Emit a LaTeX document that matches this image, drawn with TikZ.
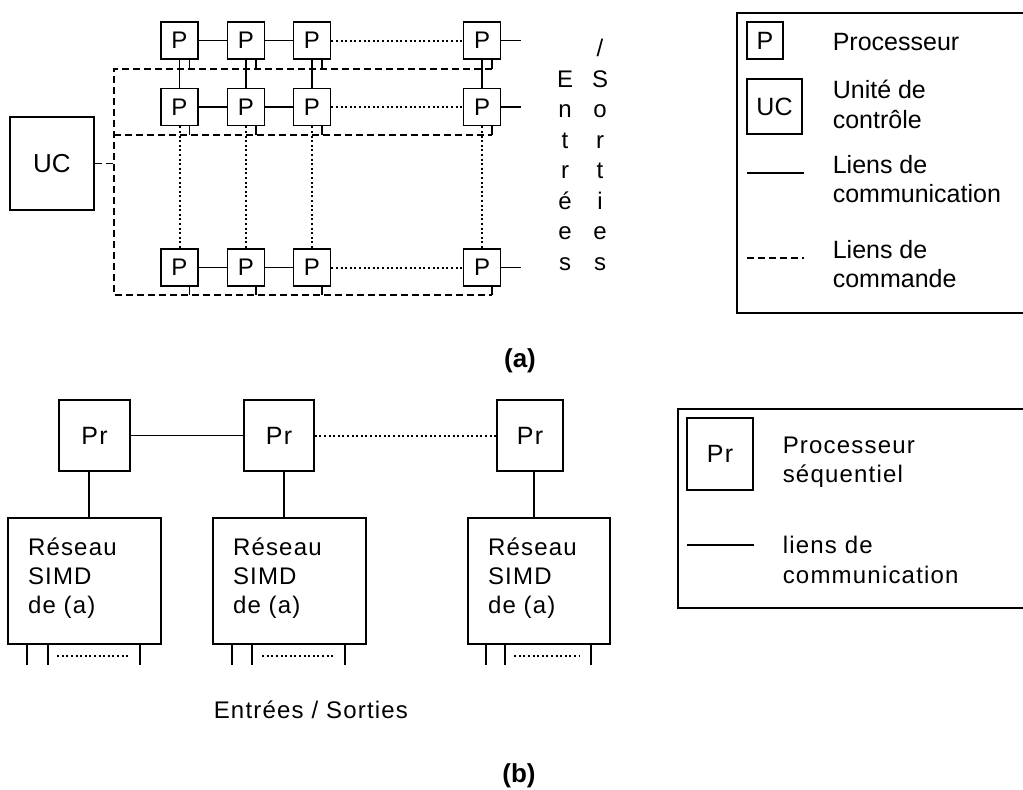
\documentclass[tikz,border=0pt]{standalone}
\usepackage{fontspec}
\setmainfont{Liberation Sans}
\newfontfamily\spfont[LetterSpace=5]{Liberation Sans}
\usetikzlibrary{calc}
\begin{document}
\begin{tikzpicture}[x=1pt,y=-1pt, line width=1.6pt,
  pbox/.style={draw, minimum width=37pt, minimum height=37pt, inner sep=0pt, font=\fontsize{24}{28}\selectfont},
  bigbox/.style={draw, inner sep=0pt},
  cmd/.style={dash pattern=on 7pt off 4pt},
  dots/.style={line width=2pt, dash pattern=on 2pt off 2.6pt},
  txt/.style={inner sep=0pt, anchor=base west, font=\fontsize{25}{29}\selectfont},
  stxt/.style={inner sep=0pt, anchor=base west, font=\spfont\fontsize{24}{29}\selectfont},
  lbl/.style={inner sep=0pt, anchor=base, font=\fontsize{26}{30}\selectfont\bfseries}
]
\useasboundingbox (0,0) rectangle (1023,790);

% ---------------- (a) ----------------
\foreach \r/\y in {1/40.5, 2/107, 3/267.5}{
  \foreach \c/\x in {1/179.5, 2/246, 3/312, 4/482}{
    \node[pbox] (p\r\c) at (\x,\y) {P};
  }
}
\node[bigbox, minimum width=84pt, minimum height=93pt, font=\fontsize{26}{30}\selectfont] (uc) at (52,163.5) {UC};

% communication links
\foreach \r in {1,2,3}{
  \draw (p\r1.east) -- (p\r2.west);
  \draw (p\r2.east) -- (p\r3.west);
  \draw[dots] (p\r3.east) -- (p\r4.west);
  \coordinate (io\r) at ([xshift=20pt]p\r4.east);
  \draw (p\r4.east) -- (io\r);
}
\foreach \c in {1,2,3,4}{
  \draw (p1\c.south) -- (p2\c.north);
  \draw[dots] (p2\c.south) -- (p3\c.north);
}

% control links
\coordinate (ctl) at (114,69);
\coordinate (ctr) at (492,69);
\coordinate (cml) at (114,135);
\coordinate (cmr) at (492,135);
\coordinate (cbl) at (114,295);
\coordinate (cbr) at (492,295);
\coordinate (cuc) at (114,163.5);
\draw[cmd] (ctr) -- (ctl) -- (cbl) -- (cbr);
\draw[cmd] (cml) -- (cmr);
\draw[cmd] (uc.east) -- (cuc);
\foreach \r/\yy in {1/69, 2/135, 3/295}{
  \foreach \c in {1,2,3,4}{
    \draw ([xshift=10pt]p\r\c.south) -- ([xshift=10pt]p\r\c.south |- 0,\yy);
  }
}

% Entrees / Sorties vertical
\foreach \l [count=\i from 0] in {E,n,t,r,é,e,s}{
  \node[inner sep=0pt, anchor=base, font=\fontsize{24}{29}\selectfont] (en\i) at (565,87+30.5*\i) {\l};
}
\foreach \l [count=\i from 0] in {/,S,o,r,t,i,e,s}{
  \node[inner sep=0pt, anchor=base, font=\fontsize{24}{29}\selectfont] (so\i) at (600,56.5+30.5*\i) {\l};
}

% legend (a)
\draw (737,13) rectangle (1040,313);
\node[bigbox, minimum width=36pt, minimum height=37pt, font=\fontsize{25}{29}\selectfont] (lp) at (765,40.5) {P};
\node[bigbox, minimum width=55pt, minimum height=55pt, font=\fontsize{25}{29}\selectfont] (luc) at (774.5,106.5) {UC};
\coordinate (lca) at (747,173);
\coordinate (lcb) at (804,173);
\draw (lca) -- (lcb);
\coordinate (lda) at (747,258);
\coordinate (ldb) at (804,258);
\draw[cmd] (lda) -- (ldb);
\node[txt] (t1) at (832,50) {Processeur};
\node[txt] (t2) at (832,98) {Unité de};
\node[txt] (t3) at (832,128) {contrôle};
\node[txt] (t4) at (832,173) {Liens de};
\node[txt] (t5) at (832,202) {communication};
\node[txt] (t6) at (832,258) {Liens de};
\node[txt] (t7) at (832,287) {commande};

\node[lbl] (la) at (520,367) {(a)};

% ---------------- (b) ----------------
\node[bigbox, minimum width=71pt, minimum height=71pt, font=\spfont\fontsize{25}{29}\selectfont] (pr1) at (94.5,435.5) {Pr};
\node[bigbox, minimum width=70pt, minimum height=71pt, font=\spfont\fontsize{25}{29}\selectfont] (pr2) at (279,435.5) {Pr};
\node[bigbox, minimum width=66pt, minimum height=71pt, font=\spfont\fontsize{25}{29}\selectfont] (pr3) at (530,435.5) {Pr};
\node[bigbox, minimum width=153pt, minimum height=126pt] (s1) at (84.5,581) {};
\node[bigbox, minimum width=153pt, minimum height=126pt] (s2) at (289.5,581) {};
\node[bigbox, minimum width=142pt, minimum height=126pt] (s3) at (539,581) {};
\draw (pr1.east) -- (pr2.west);
\draw[dots] (pr2.east) -- (pr3.west);
\draw ([xshift=-5.5pt]pr1.south) -- ([xshift=-5.5pt]pr1.south |- s1.north);
\draw ([xshift=5pt]pr2.south) -- ([xshift=5pt]pr2.south |- s2.north);
\draw ([xshift=4pt]pr3.south) -- ([xshift=4pt]pr3.south |- s3.north);

\foreach \s/\a/\b/\c/\d/\e in {1/20/41/133/50/121, 2/20/40/133/50/121, 3/19/38/124/47/112}{
  \draw ([xshift=\a pt]s\s.south west) -- ++(0,20);
  \draw ([xshift=\b pt]s\s.south west) -- ++(0,20);
  \draw ([xshift=\c pt]s\s.south west) -- ++(0,20);
  \draw[dots] ([xshift=\d pt, yshift=-11pt]s\s.south west) -- ([xshift=\e pt, yshift=-11pt]s\s.south west);
  \node[stxt] (r\s) at ([xshift=20pt]s\s.north west |- 0,555) {Réseau};
  \node[stxt] (m\s) at ([xshift=20pt]s\s.north west |- 0,584) {SIMD};
  \node[stxt] (d\s) at ([xshift=20pt]s\s.north west |- 0,613) {de (a)};
}

\node[stxt] (es) at (213,718) {Entrées / Sorties};

% legend (b)
\draw (678,409) rectangle (1040,608);
\node[bigbox, minimum width=66pt, minimum height=72pt, font=\spfont\fontsize{25}{29}\selectfont] (lpr) at (720,454) {Pr};
\coordinate (lba) at (687,545);
\coordinate (lbb) at (754,545);
\draw (lba) -- (lbb);
\node[stxt] (u1) at (782,453) {Processeur};
\node[stxt] (u2) at (782,482) {séquentiel};
\node[stxt] (u3) at (782,553) {liens de};
\node[stxt] (u4) at (782,583) {communication};

\node[lbl] (lb) at (519,782) {(b)};
\end{tikzpicture}
\end{document}
